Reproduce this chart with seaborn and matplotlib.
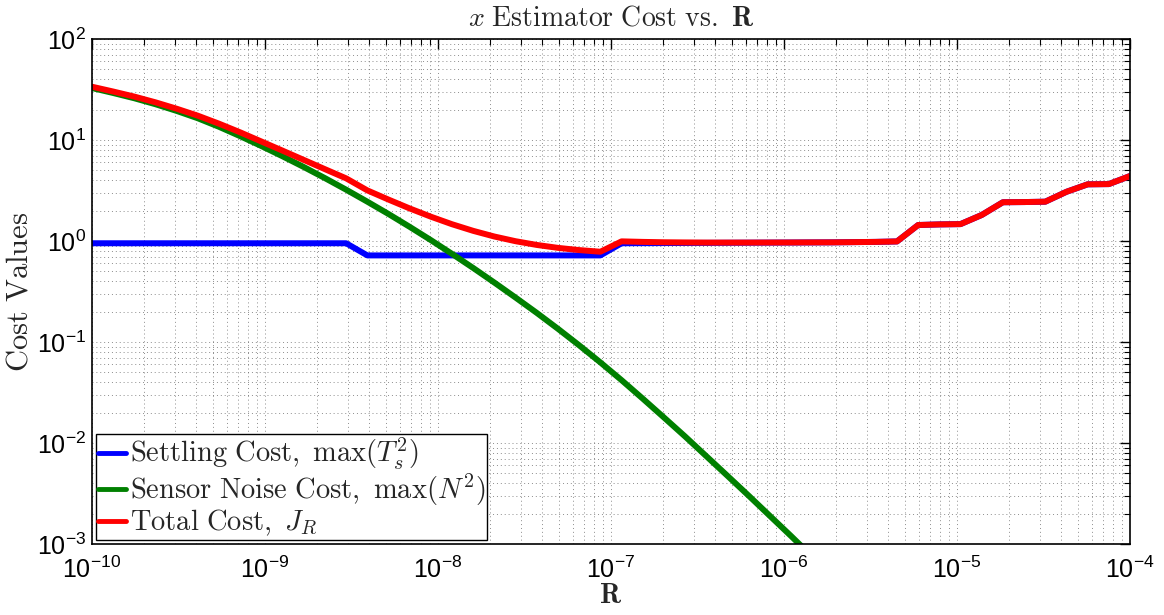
import numpy as np
import pandas as pd
import matplotlib
matplotlib.use("Agg")
import matplotlib.pyplot as plt
import seaborn as sns
from matplotlib.ticker import LogLocator, FuncFormatter, NullFormatter

# Sampling grid of the weighting R (50 log-spaced points)
R = np.logspace(-10, -4, 50)

# Settling cost max(Ts^2) at every R sample
settling = [0.95, 0.95, 0.95, 0.95, 0.95, 0.95, 0.95, 0.95, 0.95, 0.95,
            0.95, 0.95, 0.95, 0.72, 0.72, 0.72, 0.72, 0.72, 0.72, 0.72,
            0.72, 0.72, 0.72, 0.72, 0.72, 0.95, 0.952, 0.954, 0.956, 0.958,
            0.96, 0.962, 0.964, 0.966, 0.968, 0.97, 0.975, 0.98, 0.99, 1.44,
            1.46, 1.47, 1.81, 2.42, 2.43, 2.45, 3.07, 3.64, 3.66, 4.40]

# Sensor noise cost max(N^2); falls below the plotted range past R ~ 1.5e-6
noise = [32.7, 29.2, 25.9, 22.6, 19.4, 16.4, 13.5, 10.9, 8.71, 6.89,
         5.40, 4.19, 3.22, 2.45, 1.85, 1.38, 1.02, 0.745, 0.540, 0.387,
         0.275, 0.194, 0.135, 0.0927, 0.0628, 0.0419, 0.0275, 0.0179, 0.0116, 0.00741,
         0.00473, 0.00301, 0.00190, 0.00120, 0.00075, 0.00047]

# Total cost J_R
total = [33.7, 30.2, 26.9, 23.6, 20.4, 17.4, 14.5, 11.9, 9.66, 7.84,
         6.35, 5.14, 4.17, 3.17, 2.57, 2.10, 1.74, 1.465, 1.26, 1.107,
         0.995, 0.914, 0.855, 0.813, 0.783, 0.992, 0.980, 0.972, 0.968, 0.965,
         0.965, 0.965, 0.966, 0.967, 0.969, 0.970, 0.975, 0.98, 0.99, 1.44,
         1.46, 1.47, 1.81, 2.42, 2.43, 2.45, 3.07, 3.64, 3.66, 4.40]

labels = [r"$\mathrm{Settling\ Cost,\ max}(T_s^2)$",
          r"$\mathrm{Sensor\ Noise\ Cost,\ max}(N^2)$",
          r"$\mathrm{Total\ Cost,\ }J_R$"]
colors = ["#0000ff", "#008000", "#ff0000"]

frames = []
for lab, vals in zip(labels, [settling, noise, total]):
    frames.append(pd.DataFrame({"R": R[:len(vals)], "cost": vals, "series": lab}))
df = pd.concat(frames, ignore_index=True)

sns.set_theme(style="white")
plt.rcParams["mathtext.fontset"] = "cm"
plt.rcParams["font.family"] = ["Liberation Sans", "DejaVu Sans"]

fig = plt.figure(figsize=(11.64, 6.15), dpi=100)
ax = fig.add_axes([0.079, 0.1154, 0.8918, 0.8212])

sns.lineplot(data=df, x="R", y="cost", hue="series", hue_order=labels,
             palette=colors, linewidth=4.3, ax=ax, sort=False,
             estimator=None, legend=True)

ax.set_xscale("log")
ax.set_yscale("log")
ax.set_xlim(1e-10, 1e-4)
ax.set_ylim(1e-3, 1e2)

def sci(v, pos):
    e = int(round(np.log10(v)))
    return r"$\mathregular{10^{%d}}$" % e if e >= 0 else r"$\mathregular{10^{-%d}}$" % (-e)

for axis in (ax.xaxis, ax.yaxis):
    axis.set_major_locator(LogLocator(base=10, numticks=20))
    axis.set_minor_locator(LogLocator(base=10, subs=np.arange(2, 10), numticks=100))
    axis.set_major_formatter(FuncFormatter(sci))
    axis.set_minor_formatter(NullFormatter())

ax.grid(True, which="both", linestyle=(0, (1, 3)), color="#666666", linewidth=0.7, alpha=0.75)
ax.tick_params(which="both", direction="in", top=True, right=True, colors="black")
ax.tick_params(which="major", length=7, width=1.0, labelsize=18)
ax.tick_params(axis="x", which="major", pad=9)
ax.tick_params(axis="y", which="major", pad=4)
ax.tick_params(which="minor", length=4, width=0.8)
for s in ax.spines.values():
    s.set_color("black")
    s.set_linewidth(1.2)

ax.set_title(r"$x\ \mathrm{Estimator\ Cost\ vs.\ }\mathbf{R}$", fontsize=20, pad=10)
ax.set_xlabel(r"$\mathbf{R}$", fontsize=20, labelpad=0)
ax.set_ylabel(r"$\mathrm{Cost\ Values}$", fontsize=22, labelpad=2)

leg = ax.legend(loc="lower left", fontsize=20.5, frameon=True, fancybox=False,
                edgecolor="black", framealpha=1, handlelength=1.0,
                handletextpad=0.15, borderpad=0.05, labelspacing=0.0,
                borderaxespad=0.15)
leg.get_frame().set_linewidth(1.0)
for h in leg.get_lines():
    h.set_linewidth(3.5)

fig.savefig("out.png", dpi=100)
